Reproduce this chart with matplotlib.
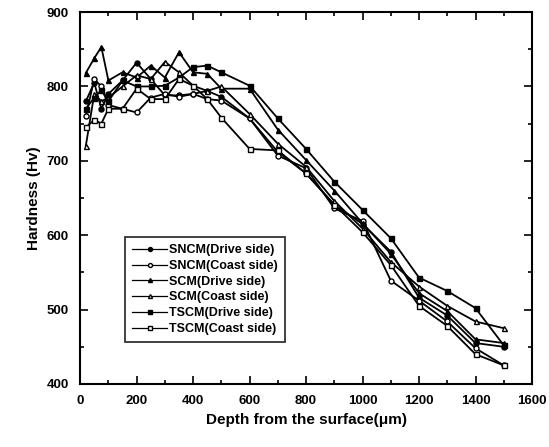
import matplotlib
matplotlib.use("Agg")
import matplotlib.pyplot as plt
from matplotlib.ticker import MultipleLocator

plt.rcParams['font.family'] = ['Liberation Sans', 'DejaVu Sans']

depth = [20, 50, 75, 100, 150, 200, 250, 300, 350, 400, 450, 500,
         600, 700, 800, 900, 1000, 1100, 1200, 1300, 1400, 1500]

sncm_drive = [780, 805, 770, 790, 808, 832, 810, 788, 788, 790, 794, 786,
              757, 712, 683, 641, 615, 578, 516, 492, 455, 450]
sncm_coast = [760, 810, 800, 775, 770, 765, 785, 790, 786, 790, 783, 781,
              757, 707, 690, 636, 619, 539, 512, 484, 448, 425]
scm_drive = [818, 838, 853, 808, 819, 812, 828, 812, 846, 819, 817, 797,
             797, 742, 701, 660, 616, 575, 522, 498, 460, 455]
scm_coast = [720, 790, 780, 785, 800, 815, 810, 833, 819, 801, 794, 800,
             763, 723, 692, 646, 609, 564, 531, 505, 484, 475]
tscm_drive = [770, 785, 795, 780, 808, 800, 800, 801, 812, 826, 828, 819,
              801, 757, 716, 672, 634, 596, 543, 525, 502, 452]
tscm_coast = [745, 755, 750, 770, 770, 797, 783, 783, 810, 801, 783, 758,
              716, 714, 683, 641, 604, 560, 505, 478, 440, 425]

labels = ['SNCM(Drive side)', 'SNCM(Coast side)', 'SCM(Drive side)',
          'SCM(Coast side)', 'TSCM(Drive side)', 'TSCM(Coast side)']
series = [sncm_drive, sncm_coast, scm_drive, scm_coast, tscm_drive, tscm_coast]
markers = ['o', 'o', '^', '^', 's', 's']
fills = ['black', 'white', 'black', 'white', 'black', 'white']

fig = plt.figure(figsize=(5.49, 4.47), dpi=100)
ax = fig.add_axes([0.146, 0.141, 0.823, 0.832])

for vals, lab, m, fc in zip(series, labels, markers, fills):
    ax.plot(depth, vals, color='black', lw=1.3, marker=m, ms=3.6,
            mfc=fc, mec='black', mew=1.0, label=lab)

ax.set_xlim(0, 1600)
ax.set_ylim(400, 900)
ax.xaxis.set_major_locator(MultipleLocator(200))
ax.xaxis.set_minor_locator(MultipleLocator(100))
ax.yaxis.set_major_locator(MultipleLocator(100))
ax.yaxis.set_minor_locator(MultipleLocator(50))
ax.tick_params(which='both', direction='in', top=True, right=True, width=1.2)
ax.tick_params(which='major', length=6, labelsize=9.5, pad=8)
ax.tick_params(which='minor', length=3)
for t in ax.get_xticklabels() + ax.get_yticklabels():
    t.set_fontweight('bold')
for s in ax.spines.values():
    s.set_linewidth(1.5)

ax.set_xlabel('Depth from the surface(\u03bcm)', fontsize=11, fontweight='bold')
ax.set_ylabel('Hardness (Hv)', fontsize=11, fontweight='bold')

leg = ax.legend(loc='lower left', bbox_to_anchor=(0.085, 0.095),
                frameon=True, fancybox=False, edgecolor='black',
                handlelength=2.8, handletextpad=0.1, markerscale=0.8,
                borderpad=0.6, labelspacing=0.3,
                prop={'weight': 'bold', 'size': 9})
leg.get_frame().set_linewidth(1.3)
for line in leg.get_lines():
    line.set_linewidth(0.9)

fig.savefig('out.png', dpi=100)
